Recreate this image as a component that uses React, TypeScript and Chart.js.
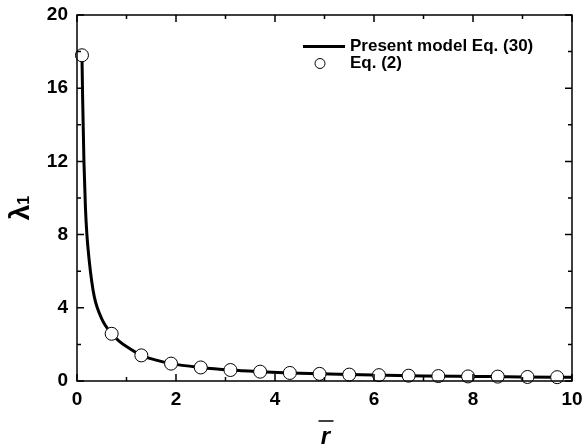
import React, { useEffect, useRef } from "react";
import { Chart, registerables } from "chart.js";

Chart.register(...registerables);

const curveX = [0.1, 0.115, 0.14, 0.17, 0.2, 0.25, 0.3, 0.35, 0.41, 0.5, 0.57, 0.7, 0.85, 1.0, 1.3, 1.6, 1.9, 2.5, 3.1, 3.7, 4.3, 4.9, 5.5, 6.1, 7, 8, 9, 10];
const curveY = [17.8, 15.3, 12.0, 9.5, 8.0, 6.5, 5.4, 4.6, 4.0, 3.4, 3.05, 2.58, 2.18, 1.88, 1.4, 1.14, 0.95, 0.74, 0.6, 0.51, 0.44, 0.39, 0.35, 0.32, 0.28, 0.25, 0.22, 0.2];

const pointX = [0.1, 0.7, 1.3, 1.9, 2.5, 3.1, 3.7, 4.3, 4.9, 5.5, 6.1, 6.7, 7.3, 7.9, 8.5, 9.1, 9.7];
const pointY = [17.8, 2.58, 1.4, 0.95, 0.74, 0.6, 0.51, 0.44, 0.39, 0.35, 0.32, 0.29, 0.27, 0.25, 0.24, 0.22, 0.21];

const xMajor = [0, 2, 4, 6, 8, 10];
const xMinor = [1, 3, 5, 7, 9];
const yMajor = [0, 4, 8, 12, 16, 20];
const yMinor = [2, 6, 10, 14, 18];

const lineLabel = "Present model Eq. (30)";
const pointLabel = "Eq. (2)";
const xTitle = "r";
const yTitle = "λ";
const ySub = "1";

const FONT = "'Liberation Sans', Arial, sans-serif";

const decorPlugin = {
  id: "decor",
  afterDatasetsDraw(chart: any) {
    const ctx = chart.ctx as CanvasRenderingContext2D;
    const { left, right, top, bottom } = chart.chartArea;
    const xs = chart.scales.x;
    const ys = chart.scales.y;
    ctx.save();
    ctx.strokeStyle = "#000";
    ctx.lineWidth = 1.5;
    ctx.strokeRect(left, top, right - left, bottom - top);
    const tick = (vals: number[], len: number) => {
      vals.forEach((v) => {
        const px = xs.getPixelForValue(v);
        ctx.beginPath();
        ctx.moveTo(px, bottom);
        ctx.lineTo(px, bottom - len);
        ctx.moveTo(px, top);
        ctx.lineTo(px, top + len);
        ctx.stroke();
      });
    };
    const ytick = (vals: number[], len: number) => {
      vals.forEach((v) => {
        const py = ys.getPixelForValue(v);
        ctx.beginPath();
        ctx.moveTo(left, py);
        ctx.lineTo(left + len, py);
        ctx.moveTo(right, py);
        ctx.lineTo(right - len, py);
        ctx.stroke();
      });
    };
    tick(xMajor, 7);
    tick(xMinor, 4);
    ytick(yMajor, 7);
    ytick(yMinor, 4);

    // legend
    const lx = left + 226;
    const ly1 = top + 31.5;
    const ly2 = top + 48.5;
    ctx.lineWidth = 3;
    ctx.beginPath();
    ctx.moveTo(lx, ly1);
    ctx.lineTo(lx + 42, ly1);
    ctx.stroke();
    ctx.lineWidth = 1;
    ctx.fillStyle = "#fff";
    ctx.beginPath();
    ctx.arc(lx + 17, ly2, 5, 0, Math.PI * 2);
    ctx.fill();
    ctx.stroke();
    ctx.fillStyle = "#000";
    ctx.font = `bold 17px ${FONT}`;
    ctx.textBaseline = "middle";
    ctx.textAlign = "left";
    ctx.fillText(lineLabel, lx + 47, ly1);
    ctx.fillText(pointLabel, lx + 47, ly2);

    // x title
    const cx = (left + right) / 2;
    ctx.font = `italic bold 24px ${FONT}`;
    ctx.textAlign = "center";
    ctx.textBaseline = "alphabetic";
    ctx.fillText(xTitle, cx + 1, 444);
    ctx.lineWidth = 1.5;
    ctx.beginPath();
    ctx.moveTo(cx - 6, 421);
    ctx.lineTo(cx + 9, 421);
    ctx.stroke();

    // y title
    ctx.save();
    ctx.translate(21, 208);
    ctx.rotate(-Math.PI / 2);
    ctx.font = `bold 28px ${FONT}`;
    ctx.textBaseline = "middle";
    ctx.textAlign = "left";
    const w = ctx.measureText(yTitle).width;
    ctx.font = `bold 16px ${FONT}`;
    const w2 = ctx.measureText(ySub).width;
    const start = -(w + w2) / 2;
    ctx.font = `bold 28px ${FONT}`;
    ctx.fillText(yTitle, start, 0);
    ctx.font = `bold 16px ${FONT}`;
    ctx.fillText(ySub, start + w, 4);
    ctx.restore();
    ctx.restore();
  },
};

export default function App() {
  const ref = useRef<HTMLCanvasElement>(null);
  useEffect(() => {
    document.body.style.margin = "0";
    const chart = new Chart(ref.current!, {
      type: "scatter",
      data: {
        datasets: [
          {
            type: "scatter",
            label: pointLabel,
            data: pointX.map((x, i) => ({ x, y: pointY[i] })),
            pointRadius: 6.5,
            pointBackgroundColor: "#fff",
            pointBorderColor: "#000",
            pointBorderWidth: 1,
            showLine: false,
            order: 0,
            clip: false as any,
          },
          {
            type: "line",
            label: lineLabel,
            data: curveX.map((x, i) => ({ x, y: curveY[i] })),
            borderColor: "#000",
            borderWidth: 3,
            pointRadius: 0,
            fill: false,
            cubicInterpolationMode: "monotone",
            order: 1,
          },
        ],
      },
      options: {
        animation: false,
        responsive: false,
        layout: { padding: { top: 15, right: 12, left: 0, bottom: 0 } },
        plugins: { legend: { display: false }, tooltip: { enabled: false } },
        scales: {
          x: {
            type: "linear",
            min: 0,
            max: 10,
            grid: { display: false, tickLength: 0 },
            border: { display: false },
            ticks: {
              stepSize: 2,
              color: "#000",
              padding: 7,
              maxRotation: 0,
              font: { family: FONT, weight: "bold", size: 19 },
            },
            afterFit(s: any) {
              s.height = 64;
              s.paddingLeft = 0;
              s.paddingRight = 0;
            },
          },
          y: {
            min: 0,
            max: 20,
            grid: { display: false, tickLength: 0 },
            border: { display: false },
            ticks: {
              stepSize: 4,
              color: "#000",
              padding: 9,
              font: { family: FONT, weight: "bold", size: 19 },
            },
            afterFit(s: any) {
              s.width = 77;
              s.paddingTop = 0;
              s.paddingBottom = 0;
            },
          },
        },
      },
      plugins: [decorPlugin],
    });
    return () => chart.destroy();
  }, []);
  return <canvas ref={ref} width={584} height={445} />;
}
